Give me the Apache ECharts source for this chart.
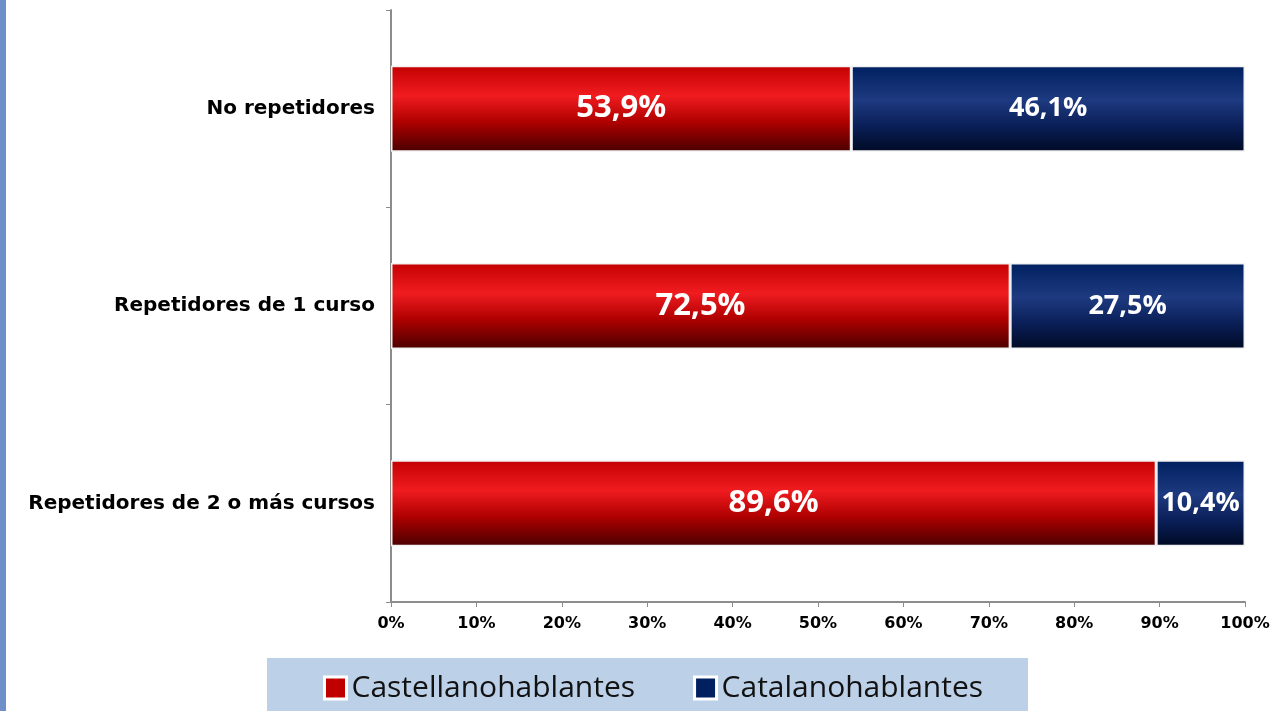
<!DOCTYPE html>
<html>
<head>
<meta charset="utf-8">
<script src="https://cdn.jsdelivr.net/npm/echarts@6/dist/echarts.min.js"></script>
<style>
  html, body { margin: 0; padding: 0; background: #fff; }
  #chart { width: 1287px; height: 711px; }
</style>
</head>
<body>
<div id="chart"></div>
<script>
const categories = ['Repetidores de 2 o más cursos', 'Repetidores de 1 curso', 'No repetidores']
const castellano = [89.6, 72.5, 53.9]
const catalan = [10.4, 27.5, 46.1]
const seriesNames = ['Castellanohablantes', 'Catalanohablantes']

const RED = '#c00000'
const BLUE = '#002060'

const redGrad = new echarts.graphic.LinearGradient(0, 0, 0, 1, [
  { offset: 0, color: '#c40000' },
  { offset: 0.35, color: '#f01c20' },
  { offset: 0.65, color: '#b00000' },
  { offset: 1, color: '#4a0000' },
])
const blueGrad = new echarts.graphic.LinearGradient(0, 0, 0, 1, [
  { offset: 0, color: '#002060' },
  { offset: 0.4, color: '#1e3a80' },
  { offset: 0.7, color: '#0a1f58' },
  { offset: 1, color: '#000a24' },
])

const fmt = (p) => p.value.toFixed(1).replace('.', ',') + '%'

const chart = echarts.init(document.getElementById('chart'))

chart.setOption({
  animation: false,
  grid: { left: 391, right: 42, top: 10, bottom: 109 },
  graphic: [
    // dotted blue strip at the left edge
    { type: 'rect', left: 0, top: 0, shape: { width: 6, height: 711 }, style: { fill: '#6f8fc8' } },
    // legend background
    { type: 'rect', left: 267, top: 658, shape: { width: 761, height: 53 }, style: { fill: '#bcd0e8' }, z: -1 },
  ],
  legend: {
    data: [
      { name: seriesNames[0], itemStyle: { color: RED, borderColor: '#fff', borderWidth: 3 } },
      { name: seriesNames[1], itemStyle: { color: BLUE, borderColor: '#fff', borderWidth: 3 } },
    ],
    left: 318,
    top: 668,
    itemGap: 58,
    itemWidth: 22,
    itemHeight: 22,
    icon: 'rect',
    textStyle: { fontFamily: 'Open Sans', fontSize: 30, color: '#111', padding: [0, 0, 0, 0] },
  },
  xAxis: {
    type: 'value',
    min: 0,
    max: 100,
    interval: 10,
    axisLine: { show: true, lineStyle: { color: '#8c8c8c', width: 2 } },
    axisTick: { show: true, length: 5, lineStyle: { color: '#8c8c8c' } },
    splitLine: { show: false },
    axisLabel: {
      formatter: (v) => v + '%',
      fontFamily: 'DejaVu Sans',
      fontWeight: 'bold',
      fontSize: 16,
      color: '#000',
      margin: 14,
    },
  },
  yAxis: {
    type: 'category',
    data: categories,
    axisLine: { show: true, lineStyle: { color: '#8c8c8c', width: 2 } },
    axisTick: { show: true, length: 5, lineStyle: { color: '#8c8c8c' } },
    axisLabel: {
      fontFamily: 'DejaVu Sans',
      fontWeight: 'bold',
      fontSize: 20,
      color: '#000',
      margin: 16,
    },
  },
  series: [
    {
      name: seriesNames[0],
      type: 'bar',
      stack: 'total',
      barWidth: 86,
      data: castellano,
      color: RED,
      itemStyle: { color: redGrad, borderColor: '#f2f2f2', borderWidth: 1.5 },
      label: {
        show: true,
        position: 'inside',
        formatter: fmt,
        color: '#fff',
        fontFamily: 'Open Sans',
        fontWeight: 'bold',
        fontSize: 31,
      },
    },
    {
      name: seriesNames[1],
      type: 'bar',
      stack: 'total',
      barWidth: 86,
      data: catalan,
      color: BLUE,
      itemStyle: { color: blueGrad, borderColor: '#f2f2f2', borderWidth: 1.5 },
      label: {
        show: true,
        position: 'inside',
        formatter: fmt,
        color: '#fff',
        fontFamily: 'Open Sans',
        fontWeight: 'bold',
        fontSize: 27,
      },
    },
  ],
})

window.addEventListener('resize', () => chart.resize())
</script>
</body>
</html>
